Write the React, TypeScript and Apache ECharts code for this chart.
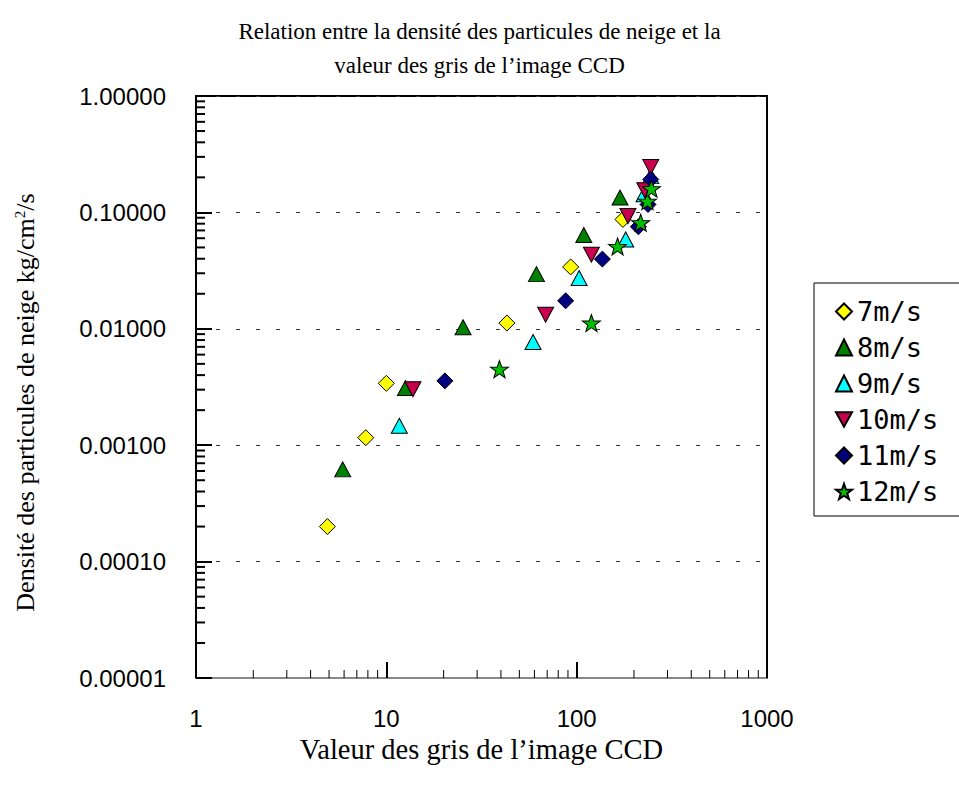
import React, { useEffect, useRef } from 'react';
import * as echarts from 'echarts';

const titleLines = ['Relation entre la densité des particules de neige et la', 'valeur des gris de l\u2019image CCD'];
const xAxisName = 'Valeur des gris de l\u2019image CCD';
const yAxisName = 'Densité des particules de neige kg/cm{sup|2}/s';

const seriesNames = ['7m/s', '8m/s', '9m/s', '10m/s', '11m/s', '12m/s'];

// [gray value, density]
const s7: number[][] = [[4.9, 0.0002], [7.8, 0.00116], [10, 0.0034], [43, 0.0112], [93, 0.034], [175, 0.087]];
const s8: number[][] = [[5.9, 0.00062], [12.6, 0.0031], [25.3, 0.0103], [61.5, 0.0295], [109, 0.064], [169, 0.134]];
const s9: number[][] = [[11.7, 0.00147], [59, 0.0077], [103, 0.0273], [181, 0.0586], [226, 0.143], [245, 0.205]];
const s10: number[][] = [[13.8, 0.00303], [68.7, 0.0132], [119.5, 0.0433], [186, 0.093], [228, 0.155], [245, 0.245]];
const s11: number[][] = [[20.3, 0.00357], [87.5, 0.0174], [136.5, 0.0397], [211, 0.0753], [237, 0.117], [245, 0.192]];
const s12: number[][] = [[39.3, 0.0045], [119.5, 0.0112], [164, 0.051], [217, 0.0815], [235.5, 0.125], [247, 0.16]];

const xMinorTicks = [2, 3, 4, 5, 6, 7, 8, 9, 20, 30, 40, 50, 60, 70, 80, 90, 200, 300, 400, 500, 600, 700, 800, 900];
const yMinorTicks = [
  0.00002, 0.00003, 0.00004, 0.00005, 0.00006, 0.00007, 0.00008, 0.00009,
  0.0002, 0.0003, 0.0004, 0.0005, 0.0006, 0.0007, 0.0008, 0.0009,
  0.002, 0.003, 0.004, 0.005, 0.006, 0.007, 0.008, 0.009,
  0.02, 0.03, 0.04, 0.05, 0.06, 0.07, 0.08, 0.09,
  0.2, 0.3, 0.4, 0.5, 0.6, 0.7, 0.8, 0.9,
];

const X_MIN = 1;
const X_MAX = 1000;
const Y_MIN = 0.00001;
const Y_MAX = 1;

const SERIF = '"Liberation Serif", "Times New Roman", serif';
const SANS = '"Liberation Sans", Arial, sans-serif';
const MONO = '"DejaVu Sans Mono", monospace';

const STAR = 'path://M0,-10L2.351,-3.236L9.511,-3.09L3.804,1.236L5.878,8.09L0,4L-5.878,8.09L-3.804,1.236L-9.511,-3.09L-2.351,-3.236Z';
const DOWN_TRI = 'path://M0,0L10,0L5,9Z';

const styles = [
  { data: s7, symbol: 'diamond', size: [16, 16], color: '#FFFF00' },
  { data: s8, symbol: 'triangle', size: [16, 15], color: '#008000' },
  { data: s9, symbol: 'triangle', size: [16, 15], color: '#00FFFF' },
  { data: s10, symbol: DOWN_TRI, size: [16, 15], color: '#C8004E' },
  { data: s11, symbol: 'diamond', size: [16, 16], color: '#000080' },
  { data: s12, symbol: STAR, size: [18, 17], color: '#00C000' },
];

export default function App() {
  const ref = useRef<HTMLDivElement>(null);

  useEffect(() => {
    document.body.style.margin = '0';
    if (!ref.current) return;
    const chart = echarts.init(ref.current, null, { renderer: 'svg' });

    const scatterSeries = styles.map((s, i) => ({
      name: seriesNames[i],
      type: 'scatter',
      data: s.data,
      symbol: s.symbol,
      symbolSize: s.size,
      itemStyle: { color: s.color, borderColor: '#000', borderWidth: 1, opacity: 1 },
      z: 3 + i,
    }));

    const option: any = {
      animation: false,
      backgroundColor: '#fff',
      title: {
        text: titleLines.join('\n'),
        left: 'center',
        top: 14,
        padding: 0,
        textStyle: { fontFamily: SERIF, fontSize: 23, fontWeight: 'normal', color: '#000', lineHeight: 34 },
      },
      legend: {
        data: seriesNames,
        orient: 'vertical',
        left: 814,
        top: 283,
        padding: [15, 40, 11, 21],
        itemWidth: 16,
        itemHeight: 16,
        itemGap: 9,
        itemTextGap: 30,
        backgroundColor: '#fff',
        borderColor: '#000',
        borderWidth: 1,
        borderRadius: 0,
        textStyle: { fontFamily: MONO, fontSize: 27, color: '#000' },
      },
      grid: {
        left: 196,
        top: 96,
        right: 192,
        bottom: 109,
        show: true,
        borderColor: '#000',
        borderWidth: 2,
        backgroundColor: '#fff',
      },
      xAxis: {
        type: 'log',
        logBase: 10,
        min: X_MIN,
        max: X_MAX,
        name: xAxisName,
        nameLocation: 'middle',
        nameGap: 52,
        nameTextStyle: { fontFamily: SERIF, fontSize: 28.5, color: '#000' },
        axisLine: { show: true, lineStyle: { color: '#888', width: 2 } },
        axisTick: { show: true, inside: true, length: 16, lineStyle: { color: '#000', width: 2 } },
        axisLabel: {
          margin: 28,
          fontFamily: SANS,
          fontSize: 24,
          color: '#000',
          formatter: (v: number) => String(Math.round(v)),
        },
        splitLine: { show: false },
      },
      yAxis: {
        type: 'log',
        logBase: 10,
        min: Y_MIN,
        max: Y_MAX,
        splitNumber: 5,
        name: yAxisName,
        nameLocation: 'middle',
        nameGap: 158,
        nameTextStyle: {
          fontFamily: SERIF,
          fontSize: 26,
          color: '#000',
          padding: [0, 31, 0, 0],
          rich: {
            sup: { fontFamily: SERIF, fontSize: 15, verticalAlign: 'top', color: '#000', padding: [0, 0, 10, 0] },
          },
        },
        axisLine: { show: true, lineStyle: { color: '#000', width: 2 } },
        axisTick: { show: true, inside: true, length: 16, lineStyle: { color: '#000', width: 2 } },
        axisLabel: {
          margin: 30,
          fontFamily: SANS,
          fontSize: 24,
          color: '#000',
          formatter: (v: number) => v.toFixed(5),
        },
        splitLine: { show: true, lineStyle: { color: '#333', width: 1, type: [4, 16] } },
      },
      series: [
        {
          name: 'xminor',
          type: 'custom',
          silent: true,
          z: 2,
          data: xMinorTicks.map((v) => [v, Y_MIN]),
          renderItem: (_p: any, api: any) => {
            const pt = api.coord([api.value(0), api.value(1)]);
            return {
              type: 'line',
              shape: { x1: pt[0], y1: pt[1], x2: pt[0], y2: pt[1] - 8 },
              style: { stroke: '#000', lineWidth: 1 },
            };
          },
        },
        {
          name: 'yminor',
          type: 'custom',
          silent: true,
          z: 2,
          data: yMinorTicks.map((v) => [X_MIN, v]),
          renderItem: (_p: any, api: any) => {
            const pt = api.coord([api.value(0), api.value(1)]);
            return {
              type: 'line',
              shape: { x1: pt[0], y1: pt[1], x2: pt[0] + 9, y2: pt[1] },
              style: { stroke: '#000', lineWidth: 2 },
            };
          },
        },
        ...scatterSeries,
      ],
    };

    chart.setOption(option);
    return () => chart.dispose();
  }, []);

  return <div ref={ref} style={{ width: 959, height: 787 }} />;
}
